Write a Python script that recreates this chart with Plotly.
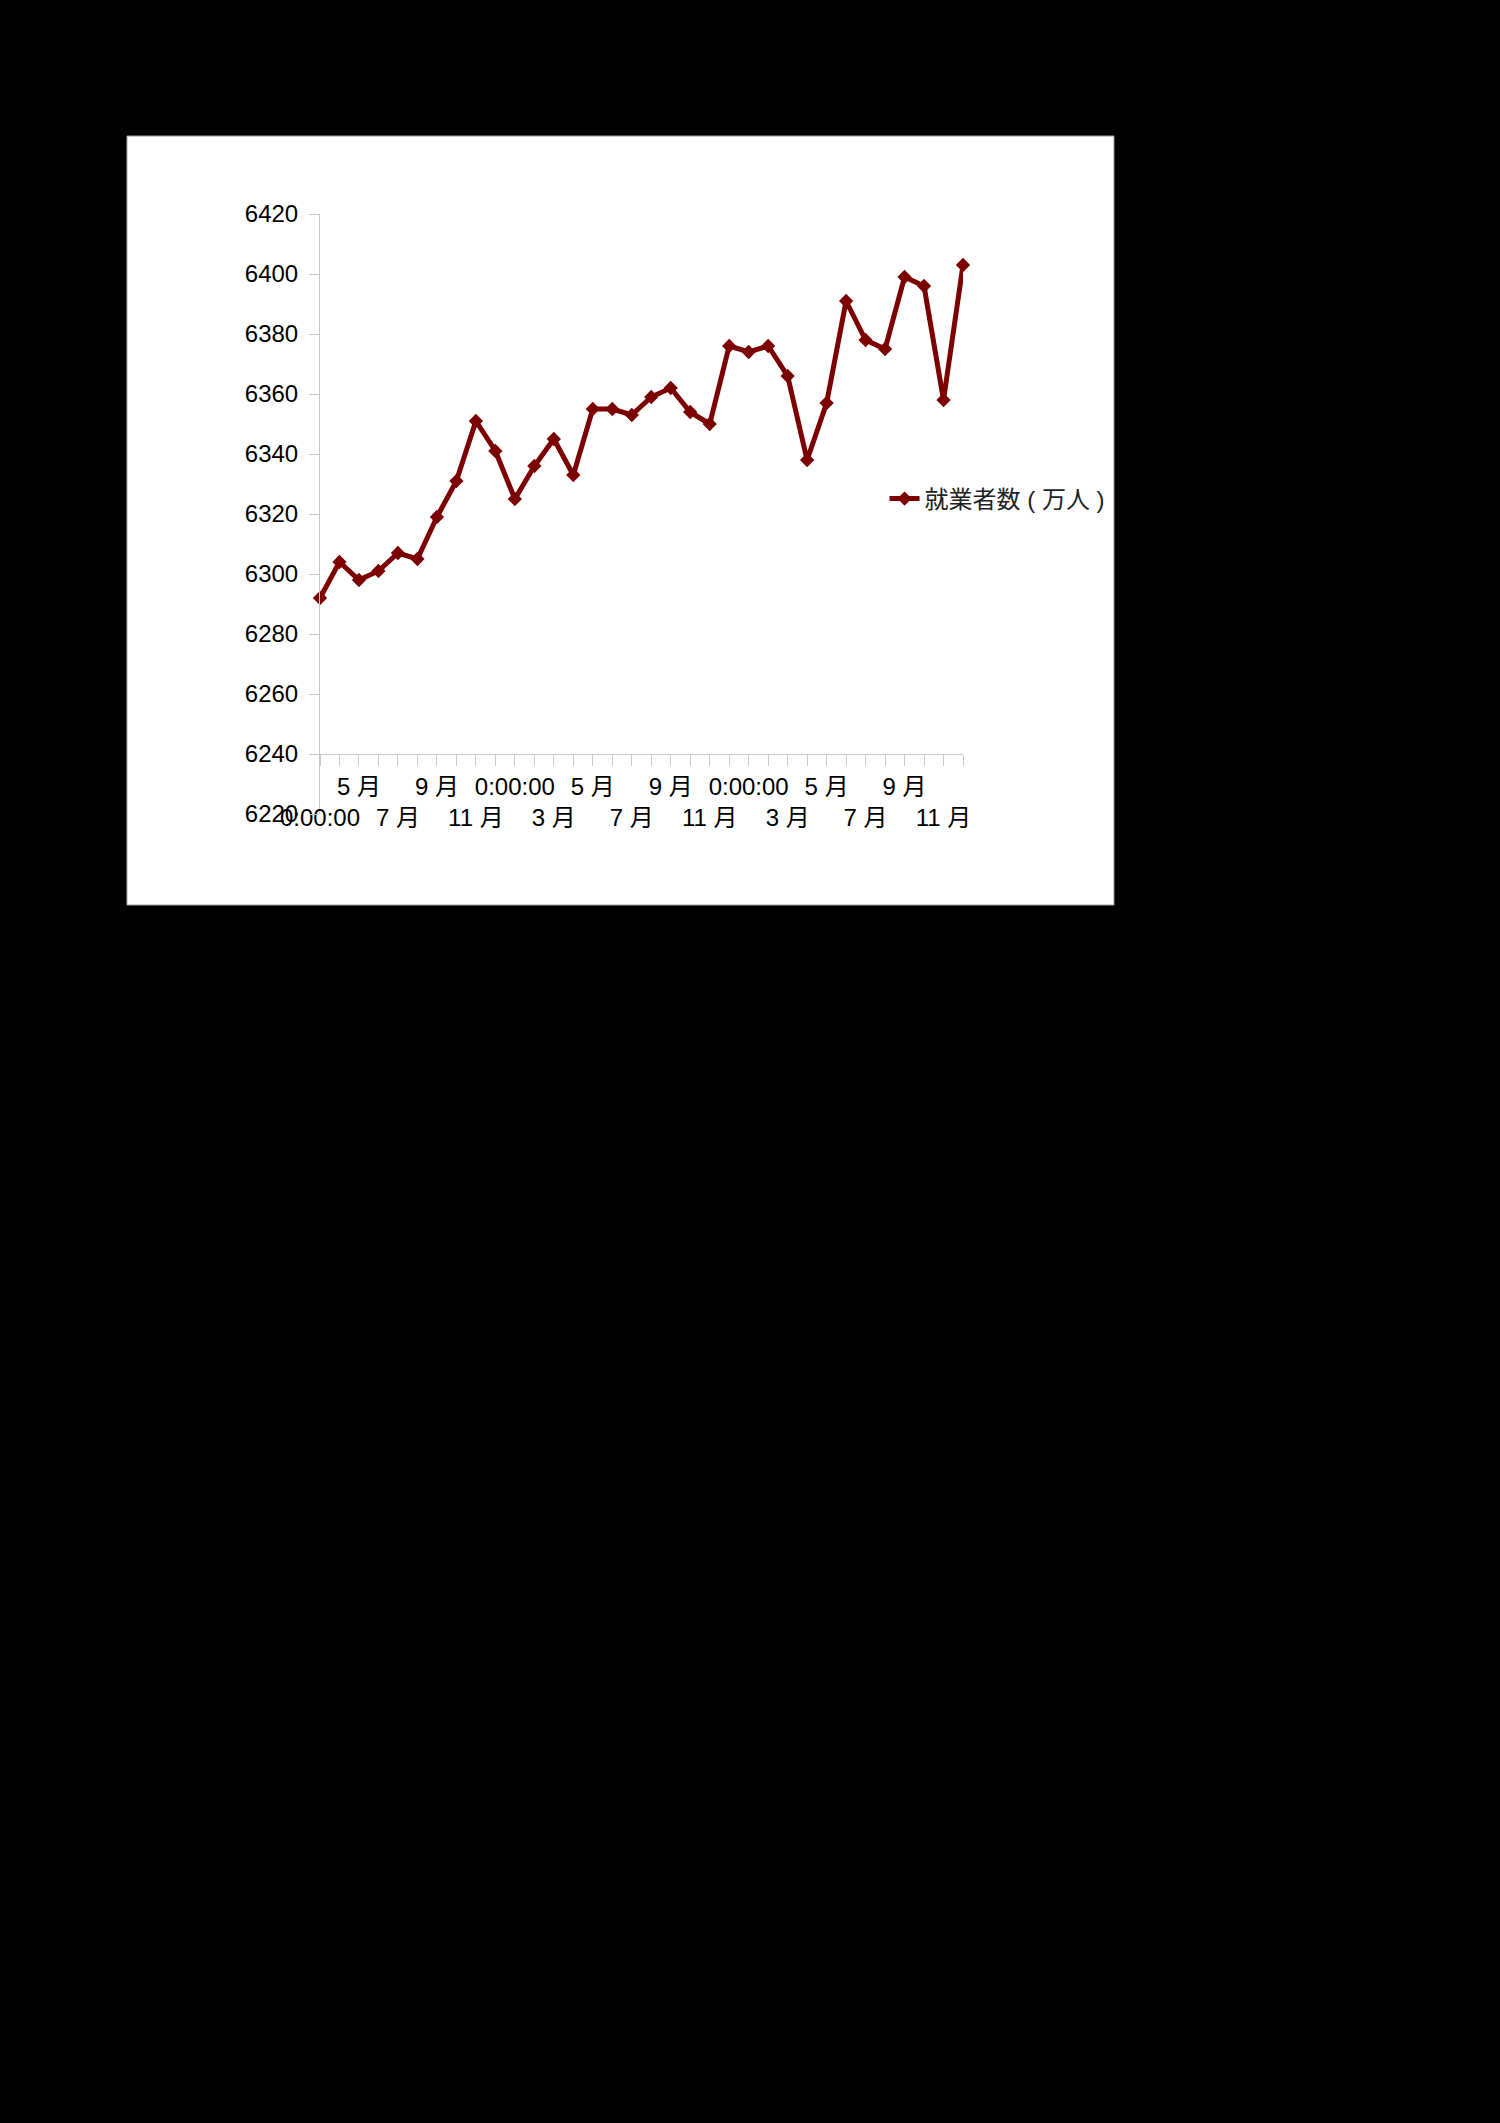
""" Monthly employed persons (万人) line chart """
import plotly.graph_objects as go

# every month, 34 points
employed = [6292, 6304, 6298, 6301, 6307, 6305, 6319, 6331, 6351, 6341,
            6325, 6336, 6345, 6333, 6355, 6355, 6353, 6359, 6362, 6354,
            6350, 6376, 6374, 6376, 6366, 6338, 6357, 6391, 6378, 6375,
            6399, 6396, 6358, 6403]

# a label on every second month
month_labels = ["0:00:00", "5 月", "7 月", "9 月", "11 月", "0:00:00", "3 月", "5 月",
                "7 月", "9 月", "11 月", "0:00:00", "3 月", "5 月", "7 月", "9 月", "11 月"]

y_ticks = list(range(6220, 6421, 20))
series_name = "就業者数 ( 万人 )"

FONT = "Liberation Sans, Arial, Noto Sans CJK JP"
RED = "#7c0000"
GREY = "#c8c8c8"

x = list(range(len(employed)))

# alternate labels between two rows, first label on lower row
tick_text = []
for i in x:
    if i % 2:
        tick_text.append("")
    else:
        k = i // 2
        tick_text.append(month_labels[k] if k % 2 else "<br>" + month_labels[k])

fig = go.Figure(go.Scatter(
    x=x, y=employed, name=series_name, mode="lines+markers", cliponaxis=False,
    line=dict(color=RED, width=5),
    marker=dict(symbol="diamond", size=11, color=RED),
))

# white chart box on black page
fig.add_shape(type="rect", xref="paper", yref="paper",
              x0=-0.3002, x1=1.2348, y0=-0.1517, y1=1.13,
              fillcolor="white", line=dict(color="#a0a0a0", width=1), layer="below")

fig.update_layout(
    width=1500, height=2123,
    margin=dict(l=320, r=537, t=214, b=1309),
    paper_bgcolor="black", plot_bgcolor="white",
    font=dict(family=FONT, size=24, color="black"),
    showlegend=True,
    legend=dict(x=0.878, y=0.525, xanchor="left", yanchor="middle",
                bgcolor="rgba(0,0,0,0)", font=dict(size=24, color="#222222")),
    xaxis=dict(range=[0, 33], tickvals=x, ticktext=tick_text, tickangle=0,
               anchor="free", position=0.1, showline=True, linecolor=GREY, linewidth=1,
               ticks="outside", ticklen=11, tickcolor=GREY, showgrid=False, zeroline=False,
               ticklabelstandoff=0, tickfont=dict(size=24)),
    yaxis=dict(range=[6220, 6420], tickvals=y_ticks, showline=True, linecolor=GREY,
               linewidth=1, ticks="outside", ticklen=10, tickcolor=GREY, showgrid=False,
               zeroline=False, ticklabelstandoff=6),
)

fig.write_html("out.html", config={"displayModeBar": False},
               post_script="document.body.style.margin='0';"
                           "document.body.style.background='black';")
